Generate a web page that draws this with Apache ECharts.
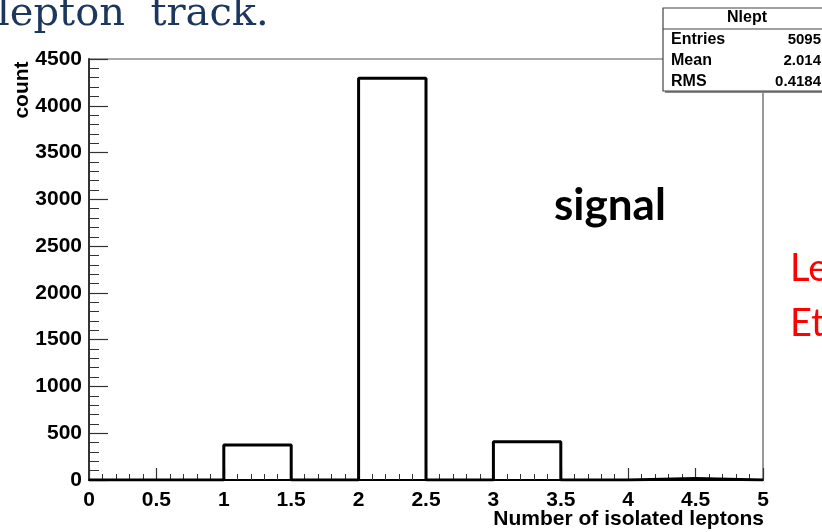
<!DOCTYPE html>
<html>
<head>
<meta charset="utf-8">
<script src="https://cdn.jsdelivr.net/npm/echarts@6/dist/echarts.min.js"></script>
<style>
html,body{margin:0;padding:0;background:#fff;}
#c{width:822px;height:532px;}
</style>
</head>
<body>
<div id="c"></div>
<script>
// Histogram bins (edges) and counts
const binEdges = [0, 0.5, 1, 1.5, 2, 2.5, 3, 3.5, 4, 4.5, 5];
const counts = [0, 0, 375, 0, 4295, 0, 408, 0, 17, 0];
// Stats box
const statsTitle = 'Nlept';
const statsLabels = ['Entries', 'Mean', 'RMS'];
const statsValues = ['5095', '2.014', '0.4184'];
// Texts
const xTitle = 'Number of isolated leptons';
const yTitle = 'count';
const headerText = 'lepton  track.';
const tagText = 'signal';
const sideLines = ['Le', 'Et'];

const stepData = binEdges.slice(0, -1).map((e, i) => [e, counts[i]]);
stepData.push([binEdges[binEdges.length - 1], counts[counts.length - 1]]);

const axFont = 'Liberation Sans';
const chart = echarts.init(document.getElementById('c'), null, {renderer: 'canvas'});

const statsGraphics = [
  {type: 'rect', shape: {x: 665, y: 10, width: 170, height: 83}, style: {fill: '#888'}, z: 100},
  {type: 'rect', shape: {x: 663, y: 8, width: 170, height: 83}, style: {fill: '#fff', stroke: '#444', lineWidth: 1.2}, z: 101},
  {type: 'line', shape: {x1: 663, y1: 29, x2: 830, y2: 29}, style: {stroke: '#444', lineWidth: 1.2}, z: 102},
  {type: 'text', x: 747, y: 18, style: {text: statsTitle, font: 'bold 16px ' + axFont, fill: '#000', align: 'center', verticalAlign: 'middle'}, z: 103}
];
const rowY = [40, 61, 82];
statsLabels.forEach((l, i) => {
  statsGraphics.push({type: 'text', x: 671, y: rowY[i], style: {text: l, font: 'bold 16px ' + axFont, fill: '#000', align: 'left', verticalAlign: 'middle'}, z: 103});
  statsGraphics.push({type: 'text', x: 821, y: rowY[i], style: {text: statsValues[i], font: 'bold 15px ' + axFont, fill: '#000', align: 'right', verticalAlign: 'middle'}, z: 103});
});

const option = {
  animation: false,
  backgroundColor: '#fff',
  grid: {left: 89, right: 59, top: 59, bottom: 52, show: true, borderColor: '#555', borderWidth: 1.2, backgroundColor: 'transparent'},
  xAxis: {
    type: 'value', min: 0, max: 5, interval: 0.5,
    axisLine: {show: true, onZero: false, lineStyle: {color: '#000', width: 2}},
    axisTick: {show: true, inside: true, length: 12, lineStyle: {color: '#333', width: 1.2}},
    minorTick: {show: true, splitNumber: 5, length: 6, lineStyle: {color: '#333', width: 1}},
    splitLine: {show: false},
    axisLabel: {margin: 10, color: '#000', fontFamily: axFont, fontWeight: 'bold', fontSize: 21, showMinLabel: true, showMaxLabel: true}
  },
  yAxis: {
    type: 'value', min: 0, max: 4500, interval: 500,
    axisLine: {show: true, lineStyle: {color: '#333', width: 2}},
    axisTick: {show: true, inside: true, length: 19, lineStyle: {color: '#333', width: 1.2}},
    minorTick: {show: true, splitNumber: 5, length: 10, lineStyle: {color: '#333', width: 1}},
    splitLine: {show: false},
    axisLabel: {margin: 7, color: '#000', fontFamily: axFont, fontWeight: 'bold', fontSize: 21, formatter: v => String(v)}
  },
  series: [{
    type: 'line', step: 'end', data: stepData, symbol: 'none',
    lineStyle: {color: '#000', width: 3}, z: 5
  }],
  graphic: [
    {type: 'text', x: -3, y: -5, style: {text: headerText, font: '40px "DejaVu Serif"', fill: '#1c375f', align: 'left', verticalAlign: 'top'}, z: 50},
    {type: 'text', x: 22, y: 90, rotation: Math.PI / 2, style: {text: yTitle, font: 'bold 21px ' + axFont, fill: '#000', align: 'center', verticalAlign: 'middle'}, z: 50},
    {type: 'text', x: 764, y: 519, style: {text: xTitle, font: 'bold 21px ' + axFont, fill: '#000', align: 'right', verticalAlign: 'middle'}, z: 50},
    {type: 'text', x: 554, y: 184, style: {text: tagText, font: 'bold 44px Lato', fill: '#000', align: 'left', verticalAlign: 'top'}, z: 50},
    {type: 'text', x: 790, y: 250, style: {text: sideLines[0], font: '38px Lato', fill: '#ff0000', align: 'left', verticalAlign: 'top'}, z: 50},
    {type: 'text', x: 790, y: 305, style: {text: sideLines[1], font: '38px Lato', fill: '#ff0000', align: 'left', verticalAlign: 'top'}, z: 50}
  ].concat(statsGraphics)
};
chart.setOption(option);
</script>
</body>
</html>
